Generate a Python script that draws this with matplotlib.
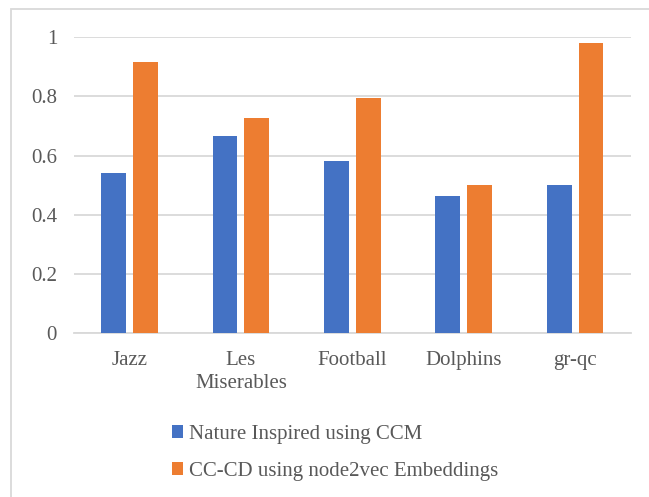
import numpy as np
import matplotlib
matplotlib.use("Agg")
import matplotlib.pyplot as plt
from matplotlib.patches import Rectangle, Patch

datasets = ["Jazz", "Les\nMiserables", "Football", "Dolphins", "gr-qc"]
nature_ccm = [0.540, 0.667, 0.582, 0.464, 0.500]
cc_cd_node2vec = [0.915, 0.726, 0.795, 0.499, 0.981]
series_names = ["Nature Inspired using CCM", "CC-CD using node2vec Embeddings"]
colors = ["#4472C4", "#ED7D31"]

plt.rcParams["font.family"] = ["Liberation Serif", "DejaVu Serif"]
text_color = "#595959"
grid_color = "#D9D9D9"

fig = plt.figure(figsize=(6.49, 4.97), dpi=100)
ax = fig.add_axes([0.1136, 0.330, 0.8584, 0.595])

x = np.arange(len(datasets))
width = 0.223
offset = 0.142
ax.bar(x - offset, nature_ccm, width, color=colors[0], zorder=3)
ax.bar(x + offset, cc_cd_node2vec, width, color=colors[1], zorder=3)

ax.set_xlim(-0.5, len(datasets) - 0.5)
ax.set_ylim(0, 1)
ax.set_yticks([0, 0.2, 0.4, 0.6, 0.8, 1])
ax.set_yticklabels(["0", "0.2", "0.4", "0.6", "0.8", "1"])
ax.set_xticks(x)
ax.set_xticklabels(datasets, linespacing=1.25)
ax.tick_params(axis="both", length=0, labelsize=15, colors=text_color)
ax.tick_params(axis="y", pad=12)
ax.tick_params(axis="x", pad=13)
ax.yaxis.grid(True, color=grid_color, linewidth=1.3, zorder=0)
for s in ["top", "right", "left"]:
    ax.spines[s].set_visible(False)
ax.spines["bottom"].set_color(grid_color)
ax.spines["bottom"].set_linewidth(1.3)

# outer chart border (cut off at right and bottom)
fig.patches.append(Rectangle((11 / 649, -0.1), 1.2, 1 - 9 / 497 + 0.1,
                             transform=fig.transFigure, fill=False,
                             edgecolor=grid_color, linewidth=1.3))

handles = [Patch(facecolor=c, edgecolor="none") for c in colors]
fig.legend(handles, series_names, loc="upper left",
           bbox_to_anchor=(172 / 649, 1 - 425 / 497), frameon=False,
           fontsize=15, labelcolor=text_color, handlelength=0.55,
           handleheight=0.55, handletextpad=0.25, labelspacing=0.85,
           borderpad=0, borderaxespad=0)

fig.savefig("out.png", dpi=100)
